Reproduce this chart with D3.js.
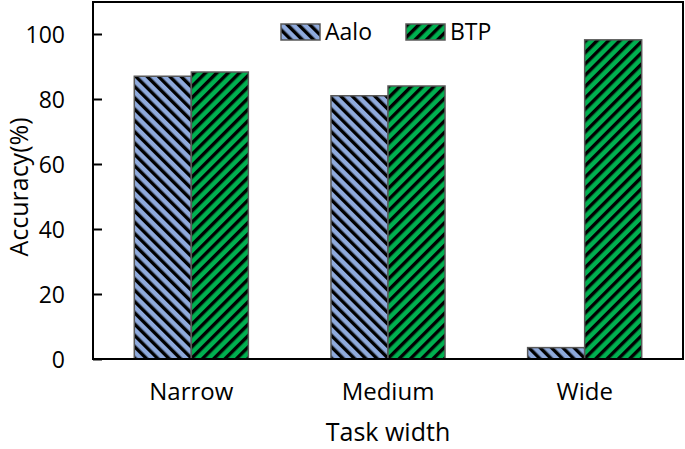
<!DOCTYPE html>
<html>
<head>
<meta charset="utf-8">
<script src="https://cdn.jsdelivr.net/npm/d3@7"></script>
<style>
  body { margin: 0; background: #fff; }
  text { font-family: "Open Sans", sans-serif; fill: #000; }
</style>
</head>
<body>
<div class="chart"></div>
<script>
var categories = ['Narrow', 'Medium', 'Wide'];
var seriesNames = ['Aalo', 'BTP'];
var aalo = [87, 81, 3.5];
var btp = [88.3, 84, 98.2];
var yTicks = [0, 20, 40, 60, 80, 100];

var width = 685, height = 449;
var margin = { top: 2, right: 2, bottom: 90, left: 93 };
var w = width - margin.left - margin.right,
    h = height - margin.top - margin.bottom;

var svg = d3.select('.chart')
    .append('svg')
    .attr('width', width)
    .attr('height', height);

// stripe patterns: Aalo "\" , BTP "/"
var defs = svg.append('defs');
function stripes(id, fill, angle) {
    var p = defs.append('pattern')
        .attr('id', id)
        .attr('patternUnits', 'userSpaceOnUse')
        .attr('width', 8)
        .attr('height', 8)
        .attr('patternTransform', 'rotate(' + angle + ')');
    p.append('rect').attr('width', 8).attr('height', 8).attr('fill', fill);
    p.append('rect').attr('width', 3.4).attr('height', 8).attr('fill', '#000');
}
stripes('pAalo', '#8faadc', -45);
stripes('pBtp', '#00b050', 45);
var fills = ['url(#pAalo)', 'url(#pBtp)'];

var g = svg.append('g')
    .attr('transform', 'translate(' + margin.left + ',' + margin.top + ')');

var x = d3.scaleBand().domain(categories).range([0, w]);
var x1 = d3.scaleBand().domain(seriesNames).range([x.bandwidth() * 0.21, x.bandwidth() * 0.79]);
var y = d3.scaleLinear().domain([0, 100]).range([h, 32]);

var rows = categories.map(function(c, i) {
    return { cat: c, vals: [aalo[i], btp[i]] };
});

var grp = g.selectAll('.grp').data(rows).enter()
    .append('g')
    .attr('transform', function(d) { return 'translate(' + x(d.cat) + ',0)'; });

grp.selectAll('rect')
    .data(function(d) { return d.vals.map(function(v, i) { return { name: seriesNames[i], v: v, i: i }; }); })
    .enter()
    .append('rect')
    .attr('x', function(d) { return x1(d.name); })
    .attr('width', x1.bandwidth())
    .attr('y', function(d) { return y(d.v); })
    .attr('height', function(d) { return y(0) - y(d.v); })
    .attr('fill', function(d) { return fills[d.i]; })
    .attr('stroke', '#595959')
    .attr('stroke-width', 1.5);

// frame
g.append('rect')
    .attr('width', w).attr('height', h)
    .attr('fill', 'none').attr('stroke', '#000').attr('stroke-width', 2);

var yAxis = g.append('g')
    .call(d3.axisLeft(y).tickValues(yTicks).tickSizeInner(-9).tickSizeOuter(0).tickPadding(28));
yAxis.select('.domain').remove();
yAxis.selectAll('line').attr('stroke', '#000').attr('stroke-width', 2);
yAxis.selectAll('text').style('font-size', '23px').attr('dy', '0.36em');

var xAxis = g.append('g')
    .attr('transform', 'translate(0,' + h + ')')
    .call(d3.axisBottom(x).tickSize(0).tickPadding(24));
xAxis.select('.domain').remove();
xAxis.selectAll('text').style('font-size', '24px');

svg.append('text')
    .attr('x', margin.left + w / 2)
    .attr('y', 441)
    .attr('text-anchor', 'middle')
    .style('font-size', '25px')
    .text('Task width');

svg.append('text')
    .attr('transform', 'translate(28,187) rotate(-90)')
    .attr('text-anchor', 'middle')
    .style('font-size', '25px')
    .text('Accuracy(%)');

// legend
var legend = svg.append('g');
var lx = [281, 406];
seriesNames.forEach(function(n, i) {
    legend.append('rect')
        .attr('x', lx[i]).attr('y', 24)
        .attr('width', 39).attr('height', 16)
        .attr('fill', fills[i])
        .attr('stroke', '#595959').attr('stroke-width', 1.5);
    legend.append('text')
        .attr('x', lx[i] + 44).attr('y', 40)
        .style('font-size', '23px')
        .text(n);
});
</script>
</body>
</html>
